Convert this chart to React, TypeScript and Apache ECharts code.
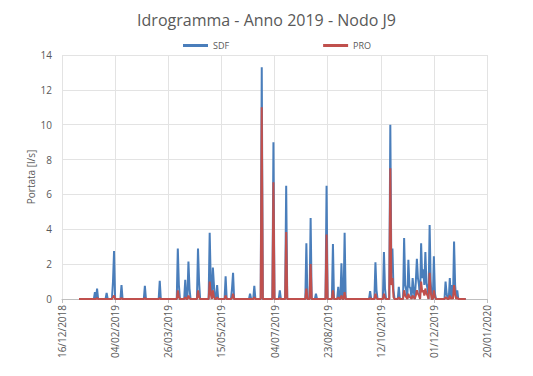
import React, { useEffect, useRef } from "react";
import * as echarts from "echarts";

// Axis origin: 16/12/2018, ticks every 50 days up to 20/01/2020
const axisStart = "2018-12-16";
const axisMaxDays = 400;
const axisStepDays = 50;
const yTicks = [0, 2, 4, 6, 8, 10, 12, 14];

// Simulated period (daily values), baseline flow outside events
const periodStart = "2019-01-01";
const periodEnd = "2019-12-31";
const baseline = 0;

// Event days
const eventDates = [
  "2019-01-16", "2019-01-18", "2019-01-27", "2019-02-02", "2019-02-03", "2019-02-10",
  "2019-03-04", "2019-03-18", "2019-04-04", "2019-04-05", "2019-04-11", "2019-04-14",
  "2019-04-15", "2019-04-23", "2019-04-24", "2019-05-04", "2019-05-05", "2019-05-07",
  "2019-05-08", "2019-05-11", "2019-05-19", "2019-05-25", "2019-05-26", "2019-06-11",
  "2019-06-15", "2019-06-22", "2019-07-03", "2019-07-09", "2019-07-15", "2019-08-03",
  "2019-08-07", "2019-08-12", "2019-08-22", "2019-08-28", "2019-09-02", "2019-09-05",
  "2019-09-08", "2019-10-02", "2019-10-07", "2019-10-08", "2019-10-15", "2019-10-16",
  "2019-10-21", "2019-10-22", "2019-10-23", "2019-10-24", "2019-10-29", "2019-11-03",
  "2019-11-04", "2019-11-05", "2019-11-07", "2019-11-08", "2019-11-09", "2019-11-11",
  "2019-11-12", "2019-11-14", "2019-11-15", "2019-11-16", "2019-11-17", "2019-11-19",
  "2019-11-20", "2019-11-21", "2019-11-22", "2019-11-23", "2019-11-24", "2019-11-25",
  "2019-11-27", "2019-11-28", "2019-12-01", "2019-12-02", "2019-12-12", "2019-12-13",
  "2019-12-16", "2019-12-18", "2019-12-20", "2019-12-21", "2019-12-23",
];
const sdfValues = [
  0.4, 0.6, 0.35, 1.0, 2.75, 0.8,
  0.75, 1.05, 2.9, 0.8, 1.1, 2.15,
  0.6, 2.9, 1.0, 3.8, 1.0, 1.8,
  0.8, 0.8, 1.3, 0.6, 1.5, 0.3,
  0.75, 13.3, 9.0, 0.5, 6.5, 3.2,
  4.65, 0.3, 6.5, 3.15, 0.7, 2.05,
  3.8, 0.45, 2.1, 0.5, 2.7, 0.6,
  10.0, 1.5, 2.9, 0.5, 0.7, 3.5,
  0.8, 0.5, 2.25, 0.7, 0.6, 1.2,
  0.5, 1.0, 2.3, 1.2, 0.8, 3.2,
  1.2, 1.7, 0.8, 2.7, 0.9, 0.6,
  4.25, 1.0, 2.45, 0.3, 1.0, 0.3,
  1.2, 0.8, 3.3, 0.8, 0.5,
];
const proValues = [
  0, 0.05, 0, 0.1, 0.2, 0.05,
  0.05, 0.05, 0.5, 0.1, 0.1, 0.2,
  0.05, 0.5, 0.1, 1.0, 0.3, 0.5,
  0.1, 0.1, 0.2, 0.05, 0.3, 0,
  0.1, 11.0, 6.7, 0.05, 3.85, 0.6,
  2.0, 0, 3.7, 0.5, 0.1, 0.2,
  0.4, 0.05, 0.3, 0.05, 0.3, 0.05,
  7.5, 0.8, 1.2, 0.1, 0.1, 0.5,
  0.2, 0.1, 0.3, 0.1, 0.1, 0.2,
  0.1, 0.2, 0.5, 0.3, 0.2, 1.0,
  0.4, 0.5, 0.2, 0.6, 0.3, 0.2,
  1.5, 0.4, 0.5, 0.1, 0.1, 0.05,
  0.2, 0.1, 0.8, 0.3, 0.1,
];

const DAY = 86400000;
const toDays = (iso: string) =>
  Math.round((Date.parse(iso + "T00:00:00Z") - Date.parse(axisStart + "T00:00:00Z")) / DAY);

const fmtDay = (d: number) => {
  const t = new Date(Date.parse(axisStart + "T00:00:00Z") + d * DAY);
  const dd = String(t.getUTCDate()).padStart(2, "0");
  const mm = String(t.getUTCMonth() + 1).padStart(2, "0");
  return `${dd}/${mm}/${t.getUTCFullYear()}`;
};

function buildSeries(values: number[]) {
  const map = new Map<number, number>();
  eventDates.forEach((d, i) => map.set(toDays(d), values[i]));
  const out: [number, number][] = [];
  for (let d = toDays(periodStart); d <= toDays(periodEnd); d++) {
    out.push([d, map.has(d) ? (map.get(d) as number) : baseline]);
  }
  return out;
}

export default function App() {
  const ref = useRef<HTMLDivElement>(null);
  useEffect(() => {
    if (!ref.current) return;
    const chart = echarts.init(ref.current, undefined, { renderer: "svg" });
    const font = "Open Sans";
    chart.setOption({
      animation: false,
      backgroundColor: "#ffffff",
      title: {
        text: "Idrogramma - Anno 2019 - Nodo J9",
        left: "center",
        top: 7,
        textStyle: { fontFamily: font, fontSize: 16, fontWeight: "normal", color: "#595959" },
      },
      legend: {
        data: ["SDF", "PRO"],
        left: 178,
        top: 36,
        itemWidth: 25,
        itemHeight: 3,
        itemGap: 94,
        icon: "rect",
        textStyle: { fontFamily: font, fontSize: 9, color: "#595959" },
      },
      grid: { left: 62, right: 46, top: 55, bottom: 77 },
      xAxis: {
        type: "value",
        min: 0,
        max: axisMaxDays,
        interval: axisStepDays,
        axisLine: { show: true, onZero: false, lineStyle: { color: "#bfbfbf" } },
        axisTick: { show: true, length: 4, lineStyle: { color: "#bfbfbf" } },
        splitLine: { show: true, lineStyle: { color: "#e3e3e3" } },
        axisLabel: {
          rotate: 90,
          fontFamily: font,
          fontSize: 10,
          color: "#595959",
          margin: 6,
          formatter: (v: number) => fmtDay(v),
        },
      },
      yAxis: {
        type: "value",
        min: yTicks[0],
        max: yTicks[yTicks.length - 1],
        interval: 2,
        name: "Portata [l/s]",
        nameLocation: "middle",
        nameGap: 26,
        nameMoveOverlap: false,
        nameRotate: 90,
        nameTextStyle: { fontFamily: font, fontSize: 10, color: "#595959" },
        axisLine: { show: false },
        axisTick: { show: false },
        splitLine: { show: true, lineStyle: { color: "#e3e3e3" } },
        axisLabel: { fontFamily: font, fontSize: 10, color: "#595959", margin: 10 },
      },
      series: [
        {
          name: "SDF",
          type: "line",
          data: buildSeries(sdfValues),
          showSymbol: false,
          symbol: "none",
          lineStyle: { color: "#4a7ebb", width: 2 },
          itemStyle: { color: "#4a7ebb" },
          z: 2,
        },
        {
          name: "PRO",
          type: "line",
          data: buildSeries(proValues),
          showSymbol: false,
          symbol: "none",
          lineStyle: { color: "#c0504d", width: 2 },
          itemStyle: { color: "#c0504d" },
          z: 3,
        },
      ],
    });
    return () => chart.dispose();
  }, []);
  return (
    <div
      ref={ref}
      style={{ position: "absolute", left: 0, top: 0, width: 533, height: 376 }}
    />
  );
}
